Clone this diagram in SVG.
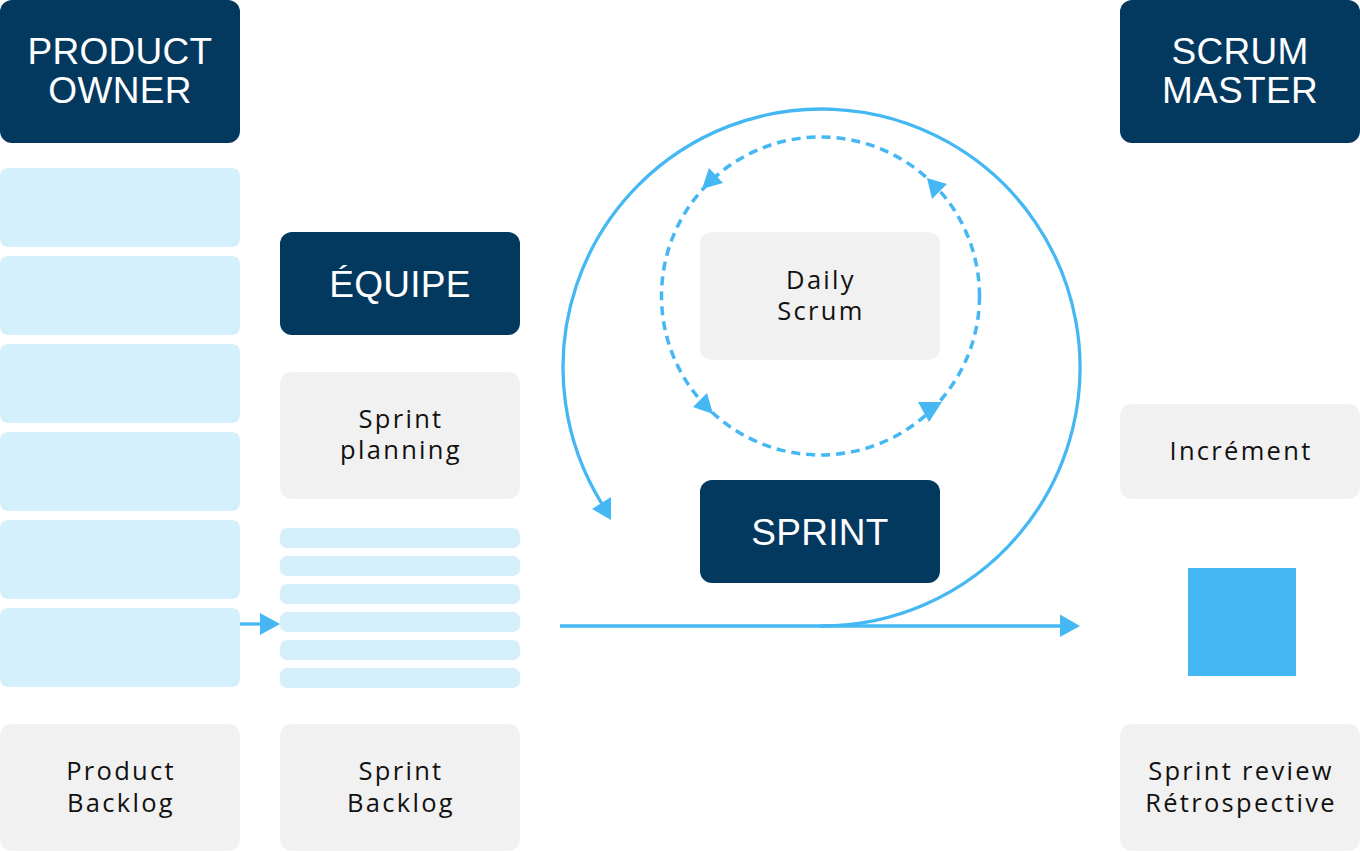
<svg xmlns="http://www.w3.org/2000/svg" width="1360" height="852" viewBox="0 0 1360 852">
<style>
.dark{fill:#03395f}
.light{fill:#d4f0fd}
.gray{fill:#f1f1f1}
.h{font-family:"Liberation Sans",Arial,sans-serif;font-size:37px;fill:#ffffff;text-anchor:middle;letter-spacing:0.3px}
.t{font-family:"Open Sans","Liberation Sans",sans-serif;font-size:25.5px;fill:#111111;text-anchor:middle;letter-spacing:2.3px}
.ln{fill:none;stroke:#45b8f3;stroke-width:3.3}
.dash{fill:none;stroke:#45b8f3;stroke-width:3.5;stroke-dasharray:9 6}
.ah{fill:#45b8f3}
</style>
<rect width="1360" height="852" fill="#ffffff"/>
<g id="product-owner"><rect class="dark" x="0" y="0" width="240" height="143" rx="12"/><text class="h" x="120" y="64">PRODUCT</text><text class="h" x="120" y="103">OWNER</text></g>
<g id="product-backlog-items">
<rect class="light" x="0" y="168" width="240" height="79" rx="8"/>
<rect class="light" x="0" y="256" width="240" height="79" rx="8"/>
<rect class="light" x="0" y="344" width="240" height="79" rx="8"/>
<rect class="light" x="0" y="432" width="240" height="79" rx="8"/>
<rect class="light" x="0" y="520" width="240" height="79" rx="8"/>
<rect class="light" x="0" y="608" width="240" height="79" rx="8"/>
</g>
<g id="product-backlog"><rect class="gray" x="0" y="724" width="240" height="127" rx="12"/><text class="t" x="121" y="780">Product</text><text class="t" x="121" y="812">Backlog</text></g>
<g id="equipe"><rect class="dark" x="280" y="232" width="240" height="103" rx="12"/><text class="h" x="400" y="297">ÉQUIPE</text></g>
<g id="sprint-planning"><rect class="gray" x="280" y="372" width="240" height="127" rx="12"/><text class="t" x="401" y="428">Sprint</text><text class="t" x="401" y="459">planning</text></g>
<g id="sprint-backlog-items">
<rect class="light" x="280" y="528" width="240" height="20" rx="7"/>
<rect class="light" x="280" y="556" width="240" height="20" rx="7"/>
<rect class="light" x="280" y="584" width="240" height="20" rx="7"/>
<rect class="light" x="280" y="612" width="240" height="20" rx="7"/>
<rect class="light" x="280" y="640" width="240" height="20" rx="7"/>
<rect class="light" x="280" y="668" width="240" height="20" rx="7"/>
</g>
<g id="sprint-backlog"><rect class="gray" x="280" y="724" width="240" height="127" rx="12"/><text class="t" x="401" y="780">Sprint</text><text class="t" x="401" y="812">Backlog</text></g>
<g id="daily-scrum"><rect class="gray" x="700" y="232" width="240" height="128" rx="12"/><text class="t" x="821" y="289">Daily</text><text class="t" x="821" y="320">Scrum</text></g>
<g id="sprint"><rect class="dark" x="700" y="480" width="240" height="103" rx="12"/><text class="h" x="820" y="545">SPRINT</text></g>
<g id="scrum-master"><rect class="dark" x="1120" y="0" width="240" height="143" rx="12"/><text class="h" x="1240" y="64">SCRUM</text><text class="h" x="1240" y="103">MASTER</text></g>
<g id="increment"><rect class="gray" x="1120" y="404" width="240" height="95" rx="12"/><text class="t" x="1241" y="460">Incrément</text></g>
<g id="increment-square"><rect x="1188" y="568" width="108" height="108" fill="#45b8f3"/></g>
<g id="sprint-review"><rect class="gray" x="1120" y="724" width="240" height="127" rx="12"/><text class="t" x="1241" y="780">Sprint review</text><text class="t" x="1241" y="812">Rétrospective</text></g>
<g id="connectors">
<line class="ln" x1="240" y1="624" x2="262" y2="624" stroke-width="4"/>
<polygon class="ah" points="280,624 260,613 260,635"/>
<line class="ln" x1="560" y1="626" x2="1062" y2="626"/>
<polygon class="ah" points="1080,626 1060,614.5 1060,637"/>
<path class="ln" d="M 820 626 A 258.5 258.5 0 1 0 602 504"/>
<polygon class="ah" points="611,520 592,509 611,497"/>
<circle class="dash" cx="820.5" cy="296" r="159"/>
<polygon class="ah" points="702,189 709,168 723,183"/>
<polygon class="ah" points="927,178 947,184 932,199"/>
<polygon class="ah" points="713,414 707,393 693,407"/>
<polygon class="ah" points="929,422 918,402 942,402"/>
</g>
</svg>
